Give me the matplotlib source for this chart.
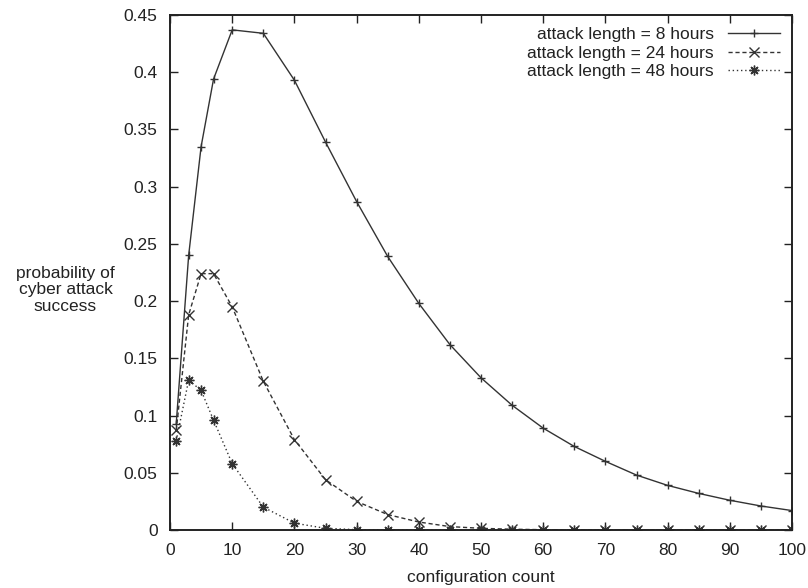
import matplotlib
matplotlib.use('agg')
import matplotlib.pyplot as plt

# configuration counts where the model was evaluated
x_cfg = [1, 3, 5, 7, 10, 15, 20, 25, 30, 35, 40, 45, 50, 55, 60, 65, 70, 75, 80, 85, 90, 95, 100]

# probability of cyber attack success
p_8h = [0.093, 0.240, 0.335, 0.394, 0.437, 0.434, 0.393, 0.339, 0.287, 0.239, 0.198, 0.162,
        0.133, 0.109, 0.089, 0.073, 0.060, 0.048, 0.039, 0.032, 0.026, 0.021, 0.017]
p_24h = [0.087, 0.188, 0.224, 0.224, 0.195, 0.130, 0.079, 0.044, 0.025, 0.0135, 0.007, 0.003,
         0.0015, 0.0007, 0.0003, 0.0001, 0.0, 0.0, 0.0, 0.0, 0.0, 0.0, 0.0]
p_48h = [0.078, 0.131, 0.122, 0.096, 0.058, 0.020, 0.006, 0.0015, 0.0003, 0.0, 0.0, 0.0,
         0.0, 0.0, 0.0, 0.0, 0.0, 0.0, 0.0, 0.0, 0.0, 0.0, 0.0]

labels = ['attack length = 8 hours', 'attack length = 24 hours', 'attack length = 48 hours']

plt.rcParams['font.family'] = ['Liberation Sans', 'DejaVu Sans']
plt.rcParams['font.size'] = 12.5

fig = plt.figure(figsize=(8.08, 5.88), dpi=100)
ax = fig.add_axes([0.2104, 0.0986, 0.7698, 0.8759])

col = '#333333'
ax.plot(x_cfg, p_8h, color=col, lw=1.0, ls='-', marker='+', ms=6, mew=1.0, label=labels[0])
ax.plot(x_cfg, p_24h, color=col, lw=1.0, ls=(0, (3, 2)), marker='x', ms=7, mew=1.0, label=labels[1])
ax.plot(x_cfg, p_48h, color=col, lw=1.0, ls=(0, (1, 2)), marker=(8, 2, 0), ms=7, mew=1.0, label=labels[2])

ax.set_xlim(0, 100)
ax.set_ylim(0, 0.45)
ax.set_xticks(range(0, 101, 10))
ax.set_yticks([i * 0.05 for i in range(10)])
ax.set_yticklabels(['0', '0.05', '0.1', '0.15', '0.2', '0.25', '0.3', '0.35', '0.4', '0.45'])
ax.tick_params(direction='in', length=6, width=1, top=True, right=True, colors='#222222', pad=9)
for s in ax.spines.values():
    s.set_linewidth(1.4)
    s.set_color('#222222')

ax.set_xlabel('configuration count', color='#222222', labelpad=9)
fig.text(0.081, 0.507, 'probability of\ncyber attack\nsuccess', ha='center', va='center',
         color='#222222', linespacing=1.15)

leg = ax.legend(loc='upper right', frameon=False, markerfirst=False, handlelength=3.0,
                labelspacing=0.18, borderaxespad=0.3, handletextpad=0.8)
for t in leg.get_texts():
    t.set_color('#222222')

fig.savefig('out.png', dpi=100)
